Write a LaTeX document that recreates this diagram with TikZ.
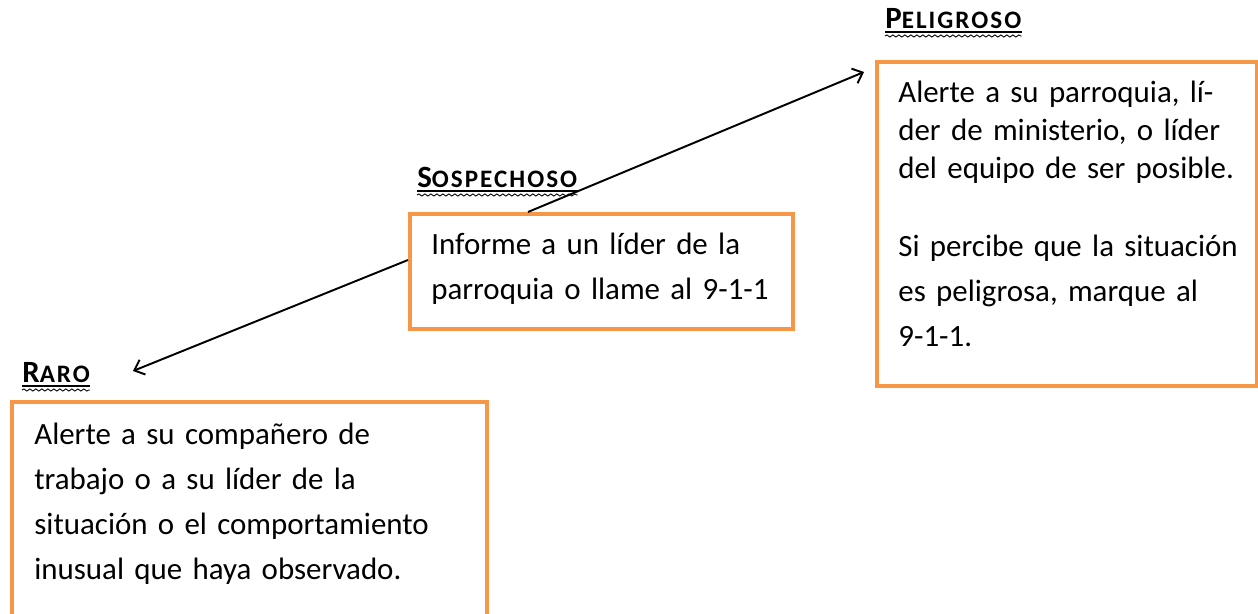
\documentclass[tikz,border=0pt]{standalone}
\usepackage{fontspec}
\setmainfont{Carlito}
\usepackage{xcolor}
\usepackage{tikz}
\usetikzlibrary{arrows.meta,positioning,calc,decorations.pathmorphing}
\definecolor{boxorange}{HTML}{F79646}
\newcommand{\fakesc}[2]{{\addfontfeature{LetterSpace=5}\fontsize{17.6}{20}\selectfont #1}{\addfontfeature{LetterSpace=8}\fontsize{14.3}{20}\selectfont #2}}

\begin{document}
\begin{tikzpicture}[x=0.02cm, y=-0.02cm,
    box/.style={draw=boxorange, line width=2.5pt},
    boxtext/.style={anchor=base west, inner sep=0pt, text width=9cm, align=left, font=\fontsize{17.6}{25.6}\selectfont},
    title/.style={anchor=base west, inner sep=0pt, font=\bfseries},
    squiggle/.style={line width=0.5pt, decorate, decoration={snake, amplitude=0.6pt, segment length=0.12cm}}]
    \useasboundingbox (0,0) rectangle (1258,614);
    \clip (0,0) rectangle (1258,614);

    % Boxes
    \draw[box] (12,640) -- (12,402) -- (487,402) -- (487,640);
    \node[box, anchor=north west, minimum width=7.66cm, minimum height=2.3cm, inner sep=0pt] (sosp) at (408,212) {};
    \node[box, anchor=north west, minimum width=7.6cm, minimum height=6.48cm, inner sep=0pt] (peli) at (875,60) {};
    \coordinate (raro) at (12,402);

    % Texts
    \node[boxtext] (rarotext) at (34,445) {Alerte a su compañero de\\trabajo o a su líder de la\\situación o el comportamiento\\inusual que haya observado.};
    \node[boxtext] (sosptext) at (431,255) {Informe a un líder de la\\parroquia o llame al 9-1-1};
    \node[boxtext] (pelitext) at (898,103) {{\fontsize{17.6}{21.6}\selectfont Alerte a su parroquia, lí-\\der de ministerio, o líder\\del equipo de ser posible.\par}
        \vspace{18.8pt}
        {\fontsize{17.6}{25.6}\selectfont Si percibe que la situación\\es peligrosa, marque al\\9-1-1.\par}};

    % Titles
    \node[title] (t1) at (22,383) {\fakesc{R}{ARO}};
    \node[title] (t2) at (417,188) {\fakesc{S}{OSPECHOSO}};
    \node[title] (t3) at (885,29) {\fakesc{P}{ELIGROSO}};
    \foreach \t in {t1,t2,t3} {
        \draw[line width=1.1pt] ($(\t.base west)+(0,3)$) -- ($(\t.base east)+(0,3)$);
        \draw[squiggle] ($(\t.base west)+(0,7)$) -- ($(\t.base east)+(0,7)$);
    }

    % Arrows
    \coordinate (tip1) at (864,72);
    \coordinate (tip2) at (133,371);
    \draw[-{Straight Barb[length=5pt, width=9pt]}, line width=1.1pt] (sosp.north west -| 528,0) -- (tip1);
    \draw[-{Straight Barb[length=5pt, width=9pt]}, line width=1.1pt] (sosp.west |- 0,260) -- (tip2);
\end{tikzpicture}
\end{document}
